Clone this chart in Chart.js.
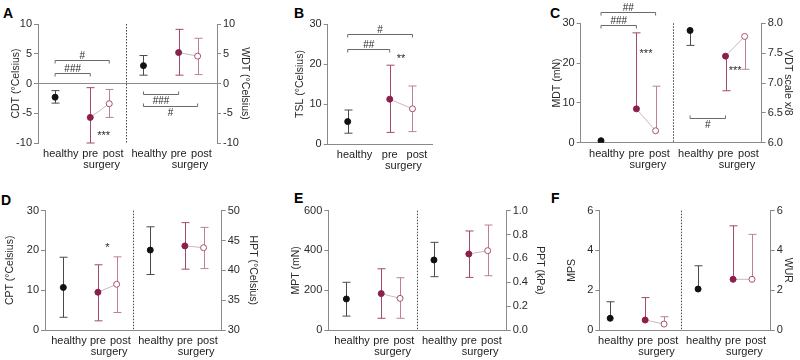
<!DOCTYPE html>
<html>
<head>
<meta charset="utf-8">
<script src="https://cdn.jsdelivr.net/npm/chart.js@4.4.1/dist/chart.umd.min.js"></script>
<style>
  body { margin: 0; width: 800px; height: 360px; position: relative; background: #fff; overflow: hidden; font-family: 'Liberation Sans', Arial, sans-serif; }
  canvas, .tag { position: absolute; }
  .tag { font-weight: bold; font-size: 14px; line-height: 14px; color: #000; }
</style>
</head>
<body>
<div class="tag" style="left:3px;top:6px">A</div>
<div class="tag" style="left:294px;top:6px">B</div>
<div class="tag" style="left:550px;top:6px">C</div>
<div class="tag" style="left:1px;top:193px">D</div>
<div class="tag" style="left:294px;top:191px">E</div>
<div class="tag" style="left:551px;top:191px">F</div>
<script>
const groups = ['healthy', 'pre', 'post'];

// A: cold / warm detection threshold (°C)
const cdtMean = [-2.3, -5.7, -3.4];
const cdtLow  = [-3.3, -10.0, -5.7];
const cdtHigh = [-1.2, -0.7, -1.0];
const wdtMean = [3.0, 5.2, 4.6];
const wdtLow  = [1.4, 1.4, 1.5];
const wdtHigh = [4.7, 9.1, 7.6];

// B: thermal sensory limen (°C)
const tslMean = [5.6, 11.2, 8.8];
const tslLow  = [2.7, 2.9, 3.1];
const tslHigh = [8.5, 19.7, 14.5];

// C: mechanical detection threshold (mN), vibration (x/8)
const mdtMean = [0.5, 8.5, 3.0];
const mdtLow  = [null, null, null];
const mdtHigh = [null, 27.6, 14.2];
const vdtMean = [7.88, 7.45, 7.78];
const vdtLow  = [7.63, 6.87, 7.23];
const vdtHigh = [null, null, null];

// D: cold / heat pain threshold (°C)
const cptMean = [10.7, 9.5, 11.5];
const cptLow  = [3.2, 2.3, 4.4];
const cptHigh = [18.3, 16.4, 18.4];
const hptMean = [43.4, 44.1, 43.8];
const hptLow  = [39.3, 40.2, 40.3];
const hptHigh = [47.3, 48.0, 47.2];

// E: mechanical pain threshold (mN), pressure pain threshold (kPa)
const mptMean = [156, 183, 159];
const mptLow  = [70, 59, 59];
const mptHigh = [240, 308, 263];
const pptMean = [0.587, 0.637, 0.665];
const pptLow  = [0.447, 0.441, 0.455];
const pptHigh = [0.735, 0.83, 0.88];

// F: mechanical pain sensitivity, wind-up ratio
const mpsMean = [0.59, 0.5, 0.3];
const mpsLow  = [null, null, null];
const mpsHigh = [1.42, 1.63, 0.67];
const wurMean = [2.06, 2.55, 2.55];
const wurLow  = [null, null, null];
const wurHigh = [3.23, 5.24, 4.81];

// where the groups sit on the x axis
const leftX  = [1, 2.85, 3.85];
const rightX = [5.65, 7.5, 8.5];
const dividerX = 4.75;
const labelShift = [0.3, 0, 0.2];

const FONT = "'Liberation Sans', Arial, sans-serif";
const TITLE_SIZE = 10.5;
const AXIS = '#8a8a8a';
const TEXT = '#2a2a2a';
const LINK = '#c9b9be';
const FILL = ['#111111', '#8b1f4c', '#ffffff'];
const EDGE = ['#111111', '#8b1f4c', '#a5506f'];
const BAR  = ['#4a4a4a', '#a04a6c', '#bf8095'];

const panels = [
  {
    box: [0, 0, 265, 180], plot: [38, 24, 217, 143], titleX: [16, 245],
    xRange: [0.1, 9.52], xLine: false, zeroLine: true,
    y:  { min: -10, max: 10, step: 5, title: 'CDT (°Celsius)' },
    y2: { min: -10, max: 10, step: 5, title: 'WDT (°Celsius)' },
    series: [
      { axis: 'y', xs: leftX, mean: cdtMean, low: cdtLow, high: cdtHigh },
      { axis: 'y2', xs: rightX, mean: wdtMean, low: wdtLow, high: wdtHigh }
    ],
    brackets: [
      { axis: 'y', x1: leftX[0], x2: leftX[2], y: 3.9, text: '#' },
      { axis: 'y', x1: leftX[0], x2: leftX[1], y: 1.7, text: '###' },
      { axis: 'y2', x1: rightX[0], x2: rightX[1], y: -1.7, text: '###', flip: true },
      { axis: 'y2', x1: rightX[0], x2: rightX[2], y: -3.7, text: '#', flip: true }
    ],
    stars: [{ axis: 'y', x: 3.55, y: -8.2, text: '***' }]
  },
  {
    box: [265, 0, 265, 180], plot: [327.7, 24, 432, 144], titleX: [300, null],
    xRange: [0.12, 4.71], xLine: true,
    y: { min: 0, max: 30, step: 10, title: 'TSL (°Celsius)' },
    series: [{ axis: 'y', xs: leftX, mean: tslMean, low: tslLow, high: tslHigh }],
    brackets: [
      { axis: 'y', x1: leftX[0], x2: leftX[2], y: 27.4, text: '#' },
      { axis: 'y', x1: leftX[0], x2: leftX[1], y: 23.7, text: '##' }
    ],
    stars: [{ axis: 'y', x: 3.35, y: 22.2, text: '**' }]
  },
  {
    box: [530, 0, 270, 180], plot: [580.7, 23.3, 761.7, 142.7], titleX: [556.7, 788],
    xRange: [-0.06, 9.39], xLine: true,
    y:  { min: 0, max: 30, step: 10, title: 'MDT (mN)' },
    y2: { min: 6, max: 8, step: 0.5, dec: 1, title: 'VDT scale x/8' },
    series: [
      { axis: 'y', xs: leftX, mean: mdtMean, low: mdtLow, high: mdtHigh },
      { axis: 'y2', xs: rightX, mean: vdtMean, low: vdtLow, high: vdtHigh }
    ],
    brackets: [
      { axis: 'y', x1: leftX[0], x2: leftX[2], y: 32.8, text: '##' },
      { axis: 'y', x1: leftX[0], x2: leftX[1], y: 29.6, text: '###' },
      { axis: 'y2', x1: rightX[0], x2: rightX[1], y: 6.42, text: '#', flip: true }
    ],
    stars: [
      { axis: 'y', x: 3.35, y: 23.2, text: '***' },
      { axis: 'y2', x: 8.0, y: 7.25, text: '***' }
    ]
  },
  {
    box: [0, 180, 265, 180], plot: [45, 210.7, 221.7, 330], titleX: [10, 253],
    xRange: [0.02, 9.47], xLine: true,
    y:  { min: 0, max: 30, step: 10, title: 'CPT (°Celsius)' },
    y2: { min: 30, max: 50, step: 5, title: 'HPT (°Celsius)' },
    series: [
      { axis: 'y', xs: leftX, mean: cptMean, low: cptLow, high: cptHigh },
      { axis: 'y2', xs: rightX, mean: hptMean, low: hptLow, high: hptHigh }
    ],
    brackets: [],
    stars: [{ axis: 'y', x: 3.35, y: 21.5, text: '*' }]
  },
  {
    box: [265, 180, 290, 180], plot: [328.3, 210.7, 506.7, 330], titleX: [296, 540],
    xRange: [0.04, 9.51], xLine: true,
    y:  { min: 0, max: 600, step: 200, title: 'MPT (mN)' },
    y2: { min: 0, max: 1, step: 0.2, dec: 1, title: 'PPT (kPa)' },
    series: [
      { axis: 'y', xs: leftX, mean: mptMean, low: mptLow, high: mptHigh },
      { axis: 'y2', xs: rightX, mean: pptMean, low: pptLow, high: pptHigh }
    ],
    brackets: [], stars: []
  },
  {
    box: [530, 180, 270, 180], plot: [599.3, 210.7, 770.7, 330], titleX: [571.7, 788],
    xRange: [0.425, 9.49], xLine: true,
    y:  { min: 0, max: 6, step: 2, title: 'MPS' },
    y2: { min: 0, max: 6, step: 2, title: 'WUR' },
    series: [
      { axis: 'y', xs: leftX, mean: mpsMean, low: mpsLow, high: mpsHigh },
      { axis: 'y2', xs: rightX, mean: wurMean, low: wurLow, high: wurHigh }
    ],
    brackets: [], stars: []
  }
];

const overlay = {
  id: 'overlay',
  beforeDatasetsDraw(chart, args, o) {
    const ctx = chart.ctx, x = chart.scales.x, area = chart.chartArea;
    ctx.save();
    if (o.series.length > 1) {
      const dx = Math.round(x.getPixelForValue(dividerX)) + 0.5;
      ctx.strokeStyle = '#444';
      ctx.lineWidth = 1;
      ctx.setLineDash([1.5, 1.5]);
      ctx.beginPath();
      ctx.moveTo(dx, area.top);
      ctx.lineTo(dx, area.bottom);
      ctx.stroke();
      ctx.setLineDash([]);
    }
    o.series.forEach(s => {
      const ys = chart.scales[s.axis];
      s.mean.forEach((m, i) => {
        const px = Math.round(x.getPixelForValue(s.xs[i])) + 0.5;
        const lo = s.low[i] ?? m, hi = s.high[i] ?? m;
        const y1 = ys.getPixelForValue(lo), y2 = ys.getPixelForValue(hi);
        ctx.strokeStyle = BAR[i];
        ctx.lineWidth = 1;
        ctx.beginPath();
        ctx.moveTo(px, y1);
        ctx.lineTo(px, y2);
        if (s.low[i] != null) { ctx.moveTo(px - 4, y1); ctx.lineTo(px + 4, y1); }
        if (s.high[i] != null) { ctx.moveTo(px - 4, y2); ctx.lineTo(px + 4, y2); }
        ctx.stroke();
      });
    });
    ctx.restore();
  },
  afterDatasetsDraw(chart, args, o) {
    const ctx = chart.ctx, x = chart.scales.x, area = chart.chartArea;
    ctx.save();
    ctx.strokeStyle = '#6a6a6a';
    ctx.fillStyle = TEXT;
    ctx.lineWidth = 1;
    ctx.textAlign = 'center';
    ctx.textBaseline = 'alphabetic';
    ctx.font = '10px ' + FONT;
    o.brackets.forEach(b => {
      const ys = chart.scales[b.axis];
      const x1 = x.getPixelForValue(b.x1), x2 = x.getPixelForValue(b.x2);
      const py = Math.round(ys.getPixelForValue(b.y)) + 0.5;
      const d = b.flip ? -3 : 3;
      ctx.beginPath();
      ctx.moveTo(x1, py + d);
      ctx.lineTo(x1, py);
      ctx.lineTo(x2, py);
      ctx.lineTo(x2, py + d);
      ctx.stroke();
      const cy = b.flip ? py + 5.5 : py - 5;
      ctx.fillText(b.text, (x1 + x2) / 2, cy + 3.5);
    });
    ctx.font = '11px ' + FONT;
    o.stars.forEach(s => {
      const ys = chart.scales[s.axis];
      ctx.fillText(s.text, x.getPixelForValue(s.x), ys.getPixelForValue(s.y) + 6.3);
    });
    // second line of the x labels
    ctx.fillStyle = '#222';
    ctx.textBaseline = 'middle';
    o.series.forEach(s => {
      const mid = (s.xs[1] + labelShift[1] + s.xs[2] + labelShift[2]) / 2;
      ctx.fillText('surgery', x.getPixelForValue(mid), area.bottom + 22);
    });
    ctx.restore();
  }
};

function yAxis(cfg, side, width, p) {
  const zero = side === 'left' && !!p.zeroLine;
  return {
    position: side,
    min: cfg.min,
    max: cfg.max,
    ticks: {
      stepSize: cfg.step,
      color: TEXT,
      padding: 2,
      font: { family: FONT, size: 11 },
      callback: v => cfg.dec ? Number(v).toFixed(cfg.dec) : v
    },
    grid: {
      drawOnChartArea: zero,
      color: zero ? (c => c.tick && c.tick.value === 0 ? AXIS : 'rgba(0,0,0,0)') : AXIS,
      tickColor: AXIS,
      tickLength: 4
    },
    border: { display: true, color: AXIS },
    title: {
      display: true,
      text: cfg.title,
      color: TEXT,
      padding: 0,
      font: { family: FONT, size: TITLE_SIZE }
    },
    afterFit: s => { s.width = width; }
  };
}

function makePanel(p) {
  const [bx, by, bw, bh] = p.box;
  const [L, T, R, B] = p.plot;
  const half = TITLE_SIZE * 1.2 / 2;
  const padL = p.titleX[0] - half - bx;
  const leftW = L - bx - padL;
  let padR, rightW = 0;
  if (p.titleX[1] != null) {
    padR = bx + bw - (p.titleX[1] + half);
    rightW = bx + bw - padR - R;
  } else {
    padR = bx + bw - R;
  }

  const canvas = document.createElement('canvas');
  canvas.width = bw;
  canvas.height = bh;
  canvas.style.left = bx + 'px';
  canvas.style.top = by + 'px';
  document.body.appendChild(canvas);

  const datasets = [];
  const tickX = [];
  const tickText = [];
  p.series.forEach(s => {
    datasets.push({
      data: [{ x: s.xs[1], y: s.mean[1] }, { x: s.xs[2], y: s.mean[2] }],
      showLine: true, borderColor: LINK, borderWidth: 1, pointRadius: 0,
      yAxisID: s.axis, order: 3
    });
    groups.forEach((g, i) => {
      datasets.push({
        data: [{ x: s.xs[i], y: s.mean[i] }],
        pointRadius: 3, pointBackgroundColor: FILL[i], pointBorderColor: EDGE[i],
        pointBorderWidth: 1, yAxisID: s.axis, order: 1
      });
      tickX.push(s.xs[i] + labelShift[i]);
      tickText.push(g);
    });
  });

  const scales = {
    x: {
      type: 'linear',
      min: p.xRange[0],
      max: p.xRange[1],
      grid: { display: false, drawTicks: false },
      border: { display: p.xLine, color: AXIS },
      ticks: {
        autoSkip: false, maxRotation: 0, minRotation: 0, padding: 4.5,
        color: '#222', font: { family: FONT, size: 11 },
        callback: (v, i) => tickText[i]
      },
      afterBuildTicks: axis => { axis.ticks = tickX.map(v => ({ value: v })); },
      afterFit: s => { s.height = by + bh - B; }
    },
    y: yAxis(p.y, 'left', leftW, p)
  };
  if (p.y2) scales.y2 = yAxis(p.y2, 'right', rightW, p);

  new Chart(canvas, {
    type: 'scatter',
    data: { datasets },
    options: {
      responsive: false,
      animation: false,
      devicePixelRatio: 1,
      layout: { padding: { left: padL, right: padR, top: T - by, bottom: 0 } },
      scales,
      plugins: {
        legend: { display: false },
        tooltip: { enabled: false },
        overlay: { series: p.series, brackets: p.brackets, stars: p.stars }
      }
    },
    plugins: [overlay]
  });
}

panels.forEach(makePanel);
</script>
</body>
</html>
